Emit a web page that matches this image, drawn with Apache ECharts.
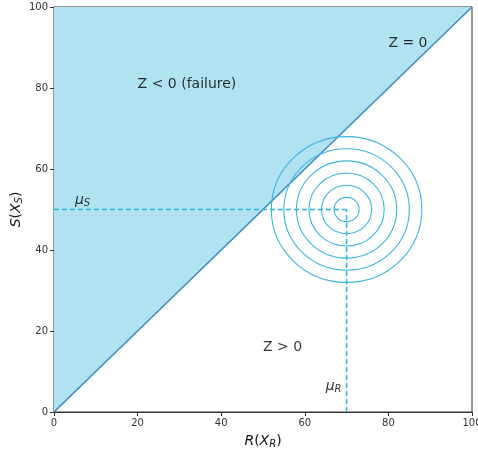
<!DOCTYPE html>
<html>
<head>
<meta charset="utf-8">
<script src="https://cdn.jsdelivr.net/npm/echarts@6/dist/echarts.min.js"></script>
<style>
html,body{margin:0;padding:0;background:#fff;}
#chart{width:478px;height:455px;}
</style>
</head>
<body>
<div id="chart"></div>
<script>
// Limit state line Z = R - S = 0
const limitLine = [[0, 0], [100, 100]];
// Failure region (S > R)
const failureRegion = [[0, 0], [0, 100], [100, 100]];
// Mean point of the joint distribution
const muR = 70;
const muS = 50;
// Contour radii of the joint density around the mean
const contourRadii = [3, 6, 9, 12, 15, 18];
const xTicks = [0, 20, 40, 60, 80, 100];
const yTicks = [0, 20, 40, 60, 80, 100];

const FONT = 'DejaVu Sans';
const chart = echarts.init(document.getElementById('chart'));

const axisCommon = {
  min: 0, max: 100, interval: 20,
  axisLine: { show: true, onZero: false, lineStyle: { color: '#333', width: 1 } },
  axisTick: { show: true, length: 4, lineStyle: { color: '#333' } },
  axisLabel: { color: '#333', fontSize: 10, fontFamily: FONT, margin: 6 },
  splitLine: { show: false },
  nameMoveOverlap: false
};

const nameRich = {
  i: { fontFamily: FONT, fontStyle: 'italic', fontSize: 14, color: '#111' },
  n: { fontFamily: FONT, fontSize: 14, color: '#111' },
  s: { fontFamily: FONT, fontStyle: 'italic', fontSize: 10, color: '#111', verticalAlign: 'bottom', padding: [6, 0, 0, 0] }
};

chart.setOption({
  animation: false,
  grid: {
    left: 54, right: 6, top: 7, bottom: 43,
    containLabel: false, outerBoundsMode: 'none',
    show: true, borderColor: '#333', borderWidth: 1, backgroundColor: 'transparent'
  },
  xAxis: Object.assign({}, axisCommon, {
    type: 'value',
    name: '{i|R}{n|(}{i|X}{s|R}{n|)}',
    nameLocation: 'middle', nameGap: 21,
    nameTextStyle: { rich: nameRich }
  }),
  yAxis: Object.assign({}, axisCommon, {
    type: 'value',
    name: '{i|S}{n|(}{i|X}{s|S}{n|)}',
    nameLocation: 'middle', nameGap: 30,
    nameTextStyle: { rich: nameRich }
  }),
  series: [
    {
      type: 'custom',
      z: 1,
      data: [0],
      renderItem: function (params, api) {
        const pts = failureRegion.map(p => api.coord(p));
        return { type: 'polygon', shape: { points: pts }, style: { fill: '#b1e2f2' } };
      }
    },
    {
      type: 'line',
      z: 3,
      data: limitLine,
      symbol: 'none',
      lineStyle: { color: '#3b8bc2', width: 1.6 }
    },
    {
      type: 'line',
      z: 4,
      data: [[0, muS], [muR, muS]],
      symbol: 'none',
      lineStyle: { color: '#27b3e3', width: 1.5, type: [5, 3] }
    },
    {
      type: 'line',
      z: 4,
      data: [[muR, 0], [muR, muS]],
      symbol: 'none',
      lineStyle: { color: '#27b3e3', width: 1.5, type: [5, 3] }
    },
    {
      type: 'custom',
      z: 5,
      data: contourRadii.map(r => [muR, muS, r]),
      renderItem: function (params, api) {
        const c = api.coord([api.value(0), api.value(1)]);
        const s = api.size([api.value(2), api.value(2)]);
        return {
          type: 'ellipse',
          shape: { cx: c[0], cy: c[1], rx: s[0], ry: s[1] },
          style: { fill: null, stroke: '#3cb5de', lineWidth: 1.1 }
        };
      }
    },
    {
      type: 'scatter',
      z: 6,
      symbolSize: 0,
      silent: true,
      data: [
        { value: [20, 80], label: { formatter: 'Z < 0 (failure)' } },
        { value: [80, 90], label: { formatter: 'Z = 0' } },
        { value: [50, 15], label: { formatter: 'Z > 0' } },
        { value: [5, 51], label: { formatter: '{m|μ}{s|S}' } },
        { value: [65, 5], label: { formatter: '{m|μ}{s|R}' } }
      ],
      label: {
        show: true,
        position: [0, 0],
        align: 'left',
        verticalAlign: 'bottom',
        offset: [0, 3],
        color: '#000',
        fontFamily: FONT,
        fontSize: 14,
        rich: {
          m: { fontFamily: FONT, fontStyle: 'italic', fontSize: 14, color: '#000' },
          s: { fontFamily: FONT, fontStyle: 'italic', fontSize: 10, color: '#000', verticalAlign: 'bottom', padding: [6, 0, 0, 0] }
        }
      }
    }
  ]
});
</script>
</body>
</html>
